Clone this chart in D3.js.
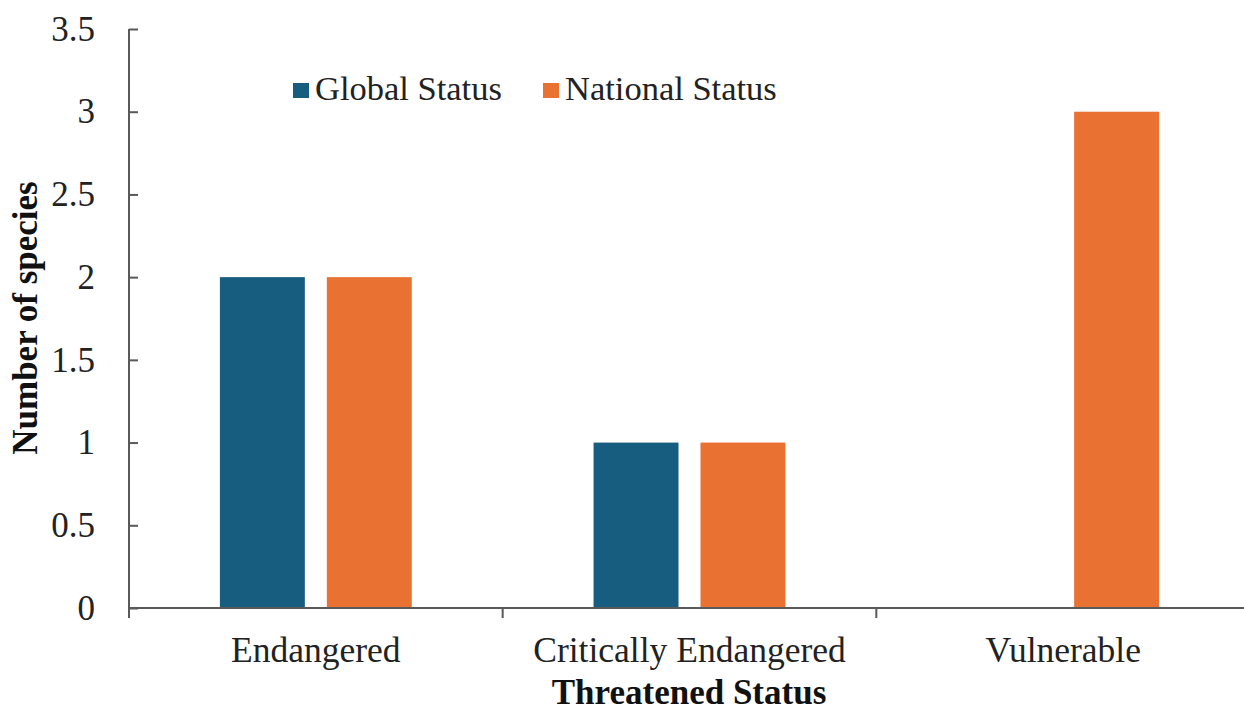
<!DOCTYPE html>
<html>
<head>
<meta charset="utf-8">
<script src="https://cdn.jsdelivr.net/npm/d3@7"></script>
<style>
  html, body { margin: 0; padding: 0; background: #fff; }
  svg { display: block; font-family: "Liberation Serif", "Times New Roman", serif; }
</style>
</head>
<body>
<svg id="chart" width="1244" height="715"></svg>
<script>
// Threatened species counts by status category
const categories = ["Endangered", "Critically Endangered", "Vulnerable"];
const seriesNames = ["Global Status", "National Status"];
const globalValues = [2, 1, 0];
const nationalValues = [2, 1, 3];
const yTicks = [0, 0.5, 1, 1.5, 2, 2.5, 3, 3.5];
const colors = ["#175d80", "#e97132"];

const rows = categories.map((c, i) => ({
  category: c,
  values: [
    { series: seriesNames[0], value: globalValues[i] },
    { series: seriesNames[1], value: nationalValues[i] }
  ]
}));

const svg = d3.select("#chart");
const plot = { left: 129, right: 1250, top: 29, bottom: 608 };
const axisColor = "#595959";
const serif = '"Liberation Serif", "Times New Roman", serif';

const x0 = d3.scaleBand().domain(categories).range([plot.left, plot.right]).paddingInner(0).paddingOuter(0);
const x1 = d3.scaleBand().domain(seriesNames).range([0, x0.bandwidth()]).paddingInner(0.2056).paddingOuter(0.85);
const y = d3.scaleLinear().domain([0, 3.5]).range([plot.bottom, plot.top]);
const color = d3.scaleOrdinal().domain(seriesNames).range(colors);

// Bars
const groups = svg.append("g").selectAll("g").data(rows).join("g")
  .attr("transform", d => `translate(${x0(d.category)},0)`);
groups.selectAll("rect").data(d => d.values.filter(v => v.value > 0)).join("rect")
  .attr("x", d => x1(d.series))
  .attr("width", x1.bandwidth())
  .attr("y", d => y(d.value))
  .attr("height", d => y(0) - y(d.value))
  .attr("fill", d => color(d.series));

// Y axis: ticks point inward
const yAxis = svg.append("g").attr("transform", `translate(${plot.left},0)`)
  .call(d3.axisRight(y).tickValues(yTicks).tickSize(9).tickFormat(d3.format("")))
  .attr("font-family", serif);
yAxis.select(".domain").attr("d", `M0,${plot.top}V${plot.bottom}`).attr("stroke", axisColor).attr("stroke-width", 2);
yAxis.selectAll(".tick line").attr("stroke", axisColor).attr("stroke-width", 2);
yAxis.selectAll(".tick text")
  .attr("x", -34).attr("text-anchor", "end")
  .attr("font-size", 35).attr("fill", "#222");

// X axis: category boundaries marked below the line
const xAxis = svg.append("g").attr("transform", `translate(0,${plot.bottom})`);
xAxis.append("line")
  .attr("x1", plot.left).attr("x2", plot.right)
  .attr("stroke", axisColor).attr("stroke-width", 2);
const boundaries = categories.map(c => x0(c));
xAxis.selectAll("line.tick").data(boundaries).join("line")
  .attr("class", "tick")
  .attr("x1", d => d).attr("x2", d => d)
  .attr("y1", 0).attr("y2", 10)
  .attr("stroke", axisColor).attr("stroke-width", 2);
xAxis.selectAll("text").data(categories).join("text")
  .attr("x", d => x0(d) + x0.bandwidth() / 2)
  .attr("y", 54)
  .attr("text-anchor", "middle")
  .attr("font-size", 35.5).attr("fill", "#222")
  .text(d => d);

// Axis titles
svg.append("text")
  .attr("x", 689).attr("y", 704)
  .attr("text-anchor", "middle")
  .attr("font-size", 35).attr("font-weight", "bold").attr("fill", "#111")
  .text("Threatened Status");
svg.append("text")
  .attr("transform", "translate(37,318) rotate(-90)")
  .attr("text-anchor", "middle")
  .attr("font-size", 35).attr("font-weight", "bold").attr("fill", "#111")
  .text("Number of species");

// Legend
const legendPos = [293, 543];
const legend = svg.append("g").selectAll("g").data(seriesNames).join("g")
  .attr("transform", (d, i) => `translate(${legendPos[i]},83)`);
legend.append("rect").attr("width", 16).attr("height", 15).attr("fill", d => color(d));
legend.append("text")
  .attr("x", 22).attr("y", 17)
  .attr("font-size", 34.5).attr("fill", "#222")
  .text(d => d);
</script>
</body>
</html>
